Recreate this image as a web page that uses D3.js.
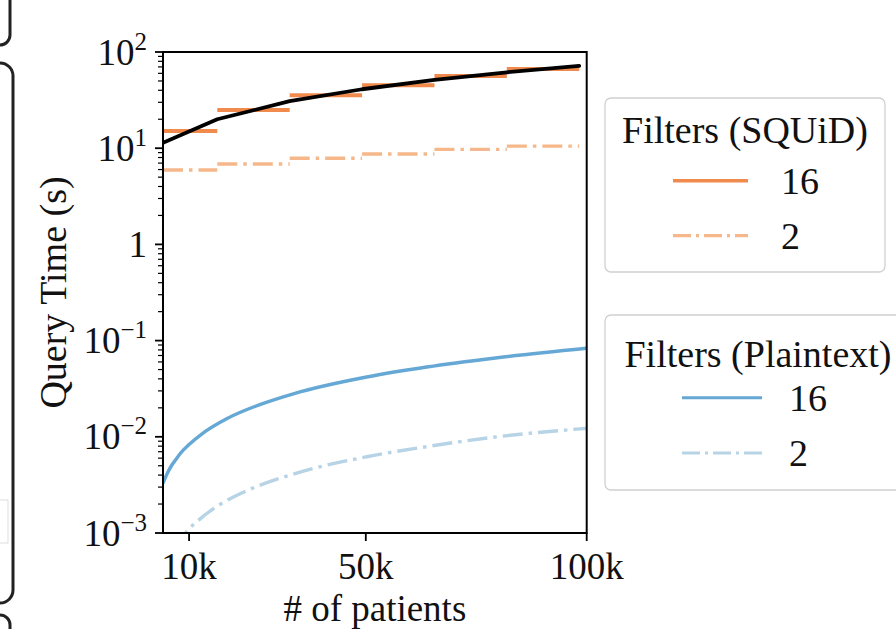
<!DOCTYPE html>
<html>
<head>
<meta charset="utf-8">
<script src="https://cdn.jsdelivr.net/npm/d3@7"></script>
<style>
  html, body { margin: 0; padding: 0; background: #fff; }
  svg { display: block; }
  text { font-family: "Liberation Serif", "Times New Roman", "DejaVu Serif", serif; fill: #111; }
</style>
</head>
<body>
<svg id="chart" width="896" height="629"></svg>
<script>
// ---------------- data ----------------
const xDomain = [4096, 100000];
const yDomain = [1e-3, 1e2];
const xTickValues = [10000, 50000, 100000];
const xTickLabels = ["10k", "50k", "100k"];
const yTickExponents = [2, 1, 0, -1, -2, -3];

// SQUiD: step buckets of 16384 patients
const bucketEdges = [4096, 16384, 32768, 49152, 65536, 81920, 98304];
const squid16 = [15.1, 24.9, 35.5, 45.1, 56.3, 66.5];
const squid2 = [5.93, 6.85, 7.85, 8.7, 9.73, 10.5];

// black fit line
const fitX = [4096, 16384, 32768, 49152, 65536, 81920, 98304];
const fitY = [11.4, 20.0, 30.8, 41.0, 51.2, 61.5, 71.8];

// Plaintext curves
const plain16X = [4096, 5000, 6000, 7000, 8000, 10000, 13000, 18500, 26000, 33600, 50200, 63800, 78900, 100000];
const plain16Y = [0.00329, 0.0041, 0.0050, 0.0058, 0.0067, 0.0083, 0.0108, 0.0154, 0.0216, 0.0280, 0.0418, 0.0531, 0.0656, 0.0832];
const plain2X = [4096, 6000, 8000, 9410, 12000, 16384, 22200, 33600, 50200, 63800, 78900, 100000];
const plain2Y = [0.00032, 0.00057, 0.00082, 0.00103, 0.00134, 0.0019, 0.00264, 0.0041, 0.0062, 0.0079, 0.0099, 0.01225];

const legendSquid = { title: "Filters (SQUiD)", labels: ["16", "2"] };
const legendPlain = { title: "Filters (Plaintext)", labels: ["16", "2"] };

// ---------------- styles ----------------
const C_OR = "#f08b4d", C_OR2 = "#f6b88a", C_BL = "#66a8d5", C_BL2 = "#b7d3e6";
const DASHDOT = "20,6,3.5,6";

const svg = d3.select("#chart");
const L = 163, R = 586.7, T = 52, B = 533;
const x = d3.scaleLinear().domain(xDomain).range([L, R]);
const y = d3.scaleLog().domain(yDomain).range([B, T]);

// left decorations (fragments of neighbouring panels)
const deco = svg.append("g").attr("fill", "none").attr("stroke", "#222").attr("stroke-width", 3);
deco.append("path").attr("d", "M10,-2 V35 A10,10 0 0 1 0,45");
deco.append("path").attr("d", "M-2,63 H0 A13,13 0 0 1 13,76 V590 A13,13 0 0 1 0,603 H-2");
deco.append("path").attr("d", "M-2,615 H0 A10,10 0 0 1 10,625 V640");
svg.append("rect").attr("x", -1).attr("y", 500).attr("width", 9).attr("height", 43)
  .attr("fill", "none").attr("stroke", "#ddd").attr("stroke-width", 1);

svg.append("defs").append("clipPath").attr("id", "clip")
  .append("rect").attr("x", L).attr("y", T).attr("width", R - L).attr("height", B - T);

const plot = svg.append("g").attr("clip-path", "url(#clip)");

// plaintext curves
const curveLine = d3.line().x(d => x(d[0])).y(d => y(d[1])).curve(d3.curveMonotoneX);
plot.append("path").datum(plain2X.map((v, i) => [v, plain2Y[i]]))
  .attr("d", curveLine).attr("fill", "none").attr("stroke", C_BL2)
  .attr("stroke-width", 3.4).attr("stroke-dasharray", DASHDOT);
plot.append("path").datum(plain16X.map((v, i) => [v, plain16Y[i]]))
  .attr("d", curveLine).attr("fill", "none").attr("stroke", C_BL).attr("stroke-width", 3.4);

// SQUiD step segments
function steps(vals, color, dash, w) {
  plot.append("g").selectAll("line").data(vals).join("line")
    .attr("x1", (d, i) => x(bucketEdges[i])).attr("x2", (d, i) => x(bucketEdges[i + 1]))
    .attr("y1", d => y(d)).attr("y2", d => y(d))
    .attr("stroke", color).attr("stroke-width", w)
    .attr("stroke-dasharray", dash || null);
}
steps(squid2, C_OR2, DASHDOT, 3.4);
steps(squid16, C_OR, null, 4);

// fit line
plot.append("path").datum(fitX.map((v, i) => [v, fitY[i]]))
  .attr("d", d3.line().x(d => x(d[0])).y(d => y(d[1])))
  .attr("fill", "none").attr("stroke", "#000").attr("stroke-width", 3.8)
  .attr("stroke-linejoin", "round").attr("stroke-linecap", "round");

// ---------------- axes ----------------
const axG = svg.append("g");
const minor = [];
for (let e = -3; e < 2; e++) for (let m = 2; m <= 9; m++) minor.push(m * Math.pow(10, e));
axG.selectAll("line.minor").data(minor).join("line")
  .attr("x1", L - 5).attr("x2", L).attr("y1", d => y(d)).attr("y2", d => y(d))
  .attr("stroke", "#000").attr("stroke-width", 1.2);
axG.selectAll("line.ymaj").data(yTickExponents).join("line")
  .attr("x1", L - 8).attr("x2", L).attr("y1", d => y(Math.pow(10, d))).attr("y2", d => y(Math.pow(10, d)))
  .attr("stroke", "#000").attr("stroke-width", 1.8);
yTickExponents.forEach(e => {
  const t = axG.append("text").attr("x", L - 16).attr("y", y(Math.pow(10, e)) + 12.5)
    .attr("text-anchor", "end").attr("font-size", 37);
  if (e === 0) { t.text("1"); return; }
  t.append("tspan").text("10");
  t.append("tspan").attr("font-size", 25).attr("dy", -15).text(e < 0 ? "\u2212" + (-e) : String(e));
});
axG.selectAll("line.xmaj").data(xTickValues).join("line")
  .attr("x1", d => x(d)).attr("x2", d => x(d)).attr("y1", B).attr("y2", B + 8)
  .attr("stroke", "#000").attr("stroke-width", 1.8);
axG.selectAll("text.xl").data(xTickValues).join("text")
  .attr("x", d => x(d)).attr("y", 579).attr("text-anchor", "middle").attr("font-size", 37)
  .text((d, i) => xTickLabels[i]);
svg.append("rect").attr("x", L).attr("y", T).attr("width", R - L).attr("height", B - T)
  .attr("fill", "none").attr("stroke", "#000").attr("stroke-width", 2);

// axis labels
svg.append("text").attr("x", (L + R) / 2).attr("y", 621).attr("text-anchor", "middle")
  .attr("font-size", 37).text("# of patients");
svg.append("text").attr("transform", `translate(66,${(T + B) / 2}) rotate(-90)`)
  .attr("text-anchor", "middle").attr("font-size", 38).text("Query Time (s)");

// ---------------- legends ----------------
function legend(cfg, box, titlePos, rows, colors, dashes, widths) {
  const g = svg.append("g");
  g.append("rect").attr("x", box[0]).attr("y", box[1]).attr("width", box[2]).attr("height", box[3])
    .attr("rx", 6).attr("fill", "#fff").attr("stroke", "#d0d0d0").attr("stroke-width", 1.3);
  g.append("text").attr("x", titlePos[0]).attr("y", titlePos[1]).attr("text-anchor", "middle")
    .attr("font-size", 38).text(cfg.title);
  rows.forEach((r, i) => {
    g.append("line").attr("x1", r[0]).attr("x2", r[1]).attr("y1", r[2]).attr("y2", r[2])
      .attr("stroke", colors[i]).attr("stroke-width", widths[i]).attr("stroke-dasharray", dashes[i]);
    g.append("text").attr("x", r[3]).attr("y", r[2] + 13).attr("font-size", 38).text(cfg.labels[i]);
  });
}
legend(legendSquid, [605, 98, 280, 174], [745, 143],
  [[673, 748, 180.7, 781], [673, 748, 235.7, 781]],
  [C_OR, C_OR2], [null, "18,5,3,5"], [3.5, 3.2]);
legend(legendPlain, [605, 315, 300, 175], [758, 366.7],
  [[682, 762, 397.7, 789], [682, 762, 453, 789]],
  [C_BL, C_BL2], [null, "18,5,3,5"], [3, 3.2]);
</script>
</body>
</html>
